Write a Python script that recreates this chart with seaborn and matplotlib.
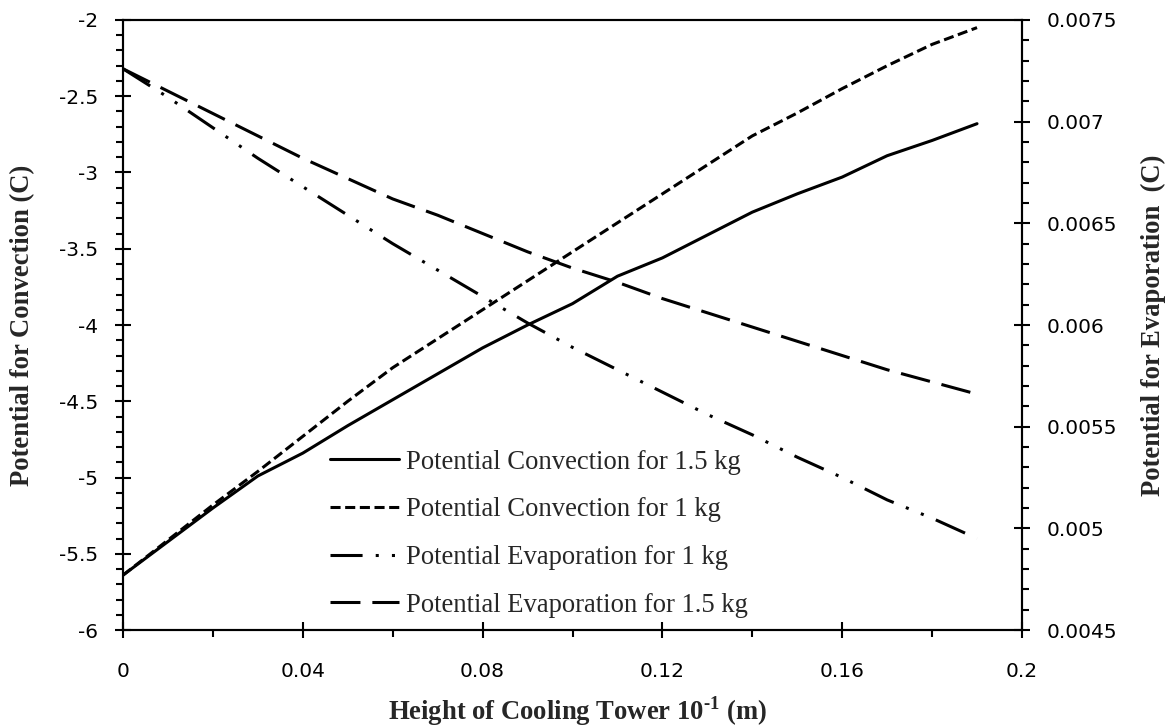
import numpy as np
import pandas as pd
import matplotlib
matplotlib.use("Agg")
import matplotlib.pyplot as plt
import seaborn as sns
from matplotlib.ticker import MultipleLocator, FuncFormatter

# ---- data ----
height = [0.00, 0.01, 0.02, 0.03, 0.04, 0.05, 0.06, 0.07, 0.08, 0.09,
          0.10, 0.11, 0.12, 0.13, 0.14, 0.15, 0.16, 0.17, 0.18, 0.19]
conv_15kg = [-5.64, -5.42, -5.20, -4.99, -4.84, -4.66, -4.49, -4.32, -4.15, -4.00,
             -3.86, -3.68, -3.56, -3.41, -3.26, -3.14, -3.03, -2.89, -2.79, -2.68]
conv_1kg = [-5.64, -5.41, -5.18, -4.96, -4.73, -4.50, -4.28, -4.09, -3.90, -3.71,
            -3.52, -3.33, -3.14, -2.95, -2.76, -2.61, -2.45, -2.30, -2.16, -2.05]
evap_1kg = [0.00726, 0.00712, 0.00697, 0.00682, 0.00668, 0.00654, 0.00640, 0.00627,
            0.00614, 0.00601, 0.00589, 0.00578, 0.00567, 0.00556, 0.00546, 0.00535,
            0.00525, 0.00514, 0.00505, 0.00495]
evap_15kg = [0.00726, 0.00715, 0.00704, 0.00693, 0.00682, 0.00672, 0.00662, 0.00654,
             0.00645, 0.00636, 0.00628, 0.00621, 0.00613, 0.00606, 0.00599, 0.00592,
             0.00585, 0.00578, 0.00572, 0.00566]

labels = ["Potential Convection for 1.5 kg", "Potential Convection for 1 kg",
          "Potential Evaporation for 1 kg", "Potential Evaporation for 1.5 kg"]
x_ticks = [0, 0.04, 0.08, 0.12, 0.16, 0.2]
left_ticks = [-6, -5.5, -5, -4.5, -4, -3.5, -3, -2.5, -2]
right_ticks = [0.0045, 0.005, 0.0055, 0.006, 0.0065, 0.007, 0.0075]

df = pd.DataFrame({"h": height, "c15": conv_15kg, "c1": conv_1kg,
                   "e1": evap_1kg, "e15": evap_15kg})

sns.set_theme(style="ticks")
plt.rcParams.update({
    "font.family": ["DejaVu Sans"],
    "mathtext.fontset": "custom",
    "mathtext.rm": "Liberation Serif:bold",
    "mathtext.bf": "Liberation Serif:bold",
    "axes.edgecolor": "black",
    "axes.linewidth": 1.5,
    "xtick.color": "black",
    "ytick.color": "black",
})

fig = plt.figure(figsize=(11.74, 7.27), dpi=100)
ax = fig.add_axes([0.1048, 0.1334, 0.7657, 0.8391])
ax2 = ax.twinx()

lw = 2.2
sns.lineplot(data=df, x="h", y="c15", ax=ax, color="black", lw=lw,
             linestyle="-", label=labels[0], legend=False)
sns.lineplot(data=df, x="h", y="c1", ax=ax, color="black", lw=lw,
             linestyle=(0, (3.3, 1.5)), label=labels[1], legend=False)
sns.lineplot(data=df, x="h", y="e1", ax=ax2, color="black", lw=lw,
             linestyle=(0, (10.5, 4.3, 1.0, 4.3, 1.0, 4.3)), label=labels[2], legend=False)
sns.lineplot(data=df, x="h", y="e15", ax=ax2, color="black", lw=lw,
             linestyle=(0, (9.8, 3.9)), label=labels[3], legend=False)

ax.set_xlim(0, 0.2)
ax.set_ylim(-6, -2)
ax2.set_ylim(0.0045, 0.0075)

ax.set_xticks(x_ticks)
ax.set_yticks(left_ticks)
ax2.set_yticks(right_ticks)
ax.xaxis.set_minor_locator(MultipleLocator(0.02))
ax.yaxis.set_minor_locator(MultipleLocator(0.1))
ax2.yaxis.set_minor_locator(MultipleLocator(0.0001))

fmt = FuncFormatter(lambda v, p: ("%g" % v))
ax.xaxis.set_major_formatter(fmt)
ax.yaxis.set_major_formatter(fmt)
ax2.yaxis.set_major_formatter(FuncFormatter(lambda v, p: ("%.4f" % v).rstrip("0")))

tsize = 14.5
ax.tick_params(axis="x", which="major", direction="inout", length=12, width=1.5,
               labelsize=tsize, pad=17)
ax.tick_params(axis="x", which="minor", direction="out", length=5, width=1.5)
ax.tick_params(axis="y", which="major", direction="inout", length=12, width=1.5,
               labelsize=tsize, pad=12)
ax.tick_params(axis="y", which="minor", direction="out", length=5, width=1.5)
ax2.tick_params(axis="y", which="major", direction="inout", length=12, width=1.5,
                labelsize=tsize, pad=12)
ax2.tick_params(axis="y", which="minor", direction="out", length=5, width=1.5)

for a in (ax, ax2):
    for s in a.spines.values():
        s.set_visible(True)
        s.set_linewidth(1.5)
        s.set_color("black")

lab_font = dict(family=["Liberation Serif", "DejaVu Serif"], weight="bold", size=19.2)
ax.set_xlabel(r"Height of Cooling Tower 10$^{\text{-1}}$ (m)", **lab_font)
ax.set_ylabel("Potential for Convection (C)", **lab_font)
ax2.set_ylabel("Potential for Evaporation  (C)", rotation=90, **lab_font)
ax.xaxis.set_label_coords(0.506, -0.1475)
ax.xaxis.label.set_va("baseline")
ax.yaxis.set_label_coords(-0.112, 0.5)
ax.yaxis.label.set_va("center")
ax2.yaxis.set_label_coords(1.146, 0.5)
ax2.yaxis.label.set_va("center")

h1, l1 = ax.get_legend_handles_labels()
h2, l2 = ax2.get_legend_handles_labels()
leg = ax2.legend(h1 + h2, l1 + l2, loc="center left", bbox_to_anchor=(0.230, 0.158),
                 frameon=False, borderpad=0, borderaxespad=0, handlelength=2.6,
                 handletextpad=0.27, labelspacing=0.85,
                 prop=dict(family=["Liberation Serif", "DejaVu Serif"], size=19.2))

fig.savefig("out.png", dpi=100, facecolor="white")
